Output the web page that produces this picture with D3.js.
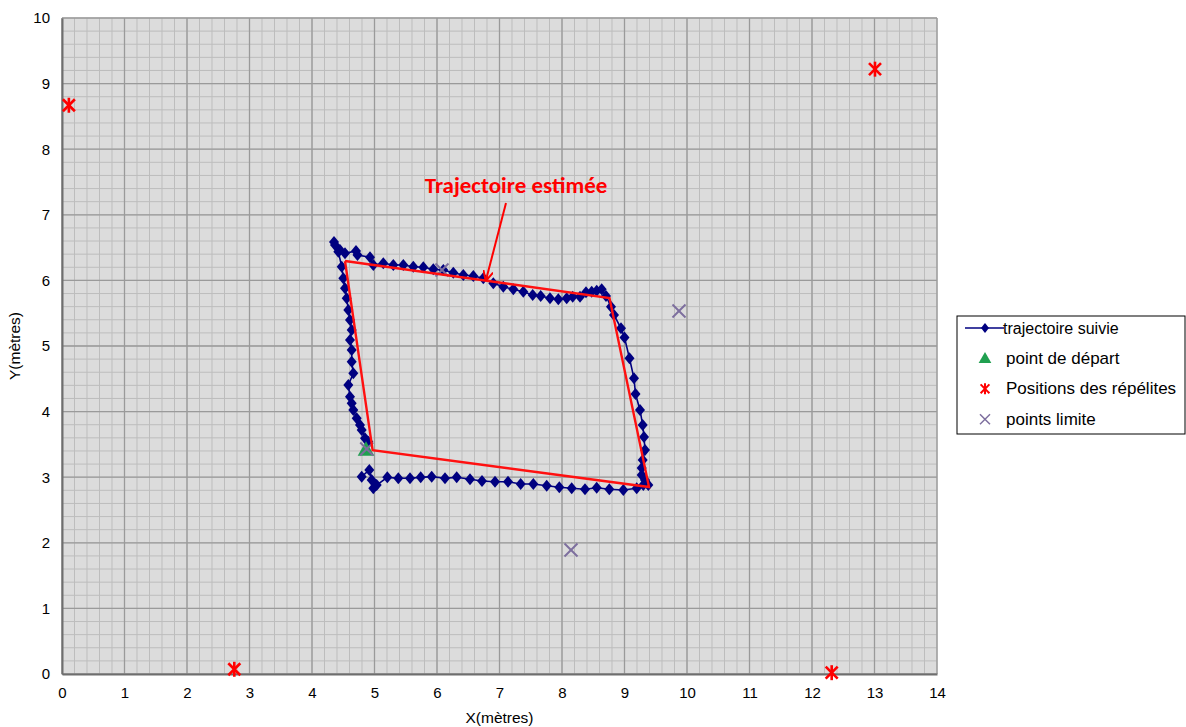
<!DOCTYPE html>
<html>
<head>
<meta charset="utf-8">
<script src="https://cdn.jsdelivr.net/npm/d3@7"></script>
<style>
  body { margin: 0; background: #fff; }
  text { font-family: Arial, "Liberation Sans", sans-serif; }
</style>
</head>
<body>
<div id="chart"></div>
<script>
// trajectoire suivie (x, y in metres)
const trajX = [4.795, 4.917, 4.955, 4.981, 5.035, 5.205, 5.381, 5.568, 5.739, 5.915, 6.128, 6.315, 6.528, 6.72, 6.928, 7.136, 7.339, 7.541, 7.755, 7.957, 8.155, 8.368, 8.555, 8.757, 8.981, 9.195, 9.301, 9.381,
  9.328, 9.275, 9.275, 9.291, 9.328, 9.312, 9.291, 9.248, 9.176, 9.152, 9.08, 9.0, 8.944, 8.832, 8.784, 8.704,
  8.635, 8.555, 8.475, 8.384, 8.288, 8.171, 8.075, 7.941, 7.808, 7.659, 7.531, 7.381, 7.221, 7.061, 6.901, 6.741, 6.581, 6.421, 6.261, 6.101, 5.941, 5.781, 5.621, 5.461, 5.301, 5.141, 4.981, 4.928, 4.728, 4.704, 4.528, 4.448, 4.368, 4.352,
  4.421, 4.475, 4.501, 4.528, 4.555, 4.581, 4.608, 4.635, 4.608, 4.635, 4.635, 4.661, 4.581, 4.608, 4.635, 4.661, 4.715, 4.768, 4.795, 4.848, 4.901];
const trajY = [3.008, 3.110, 2.957, 2.831, 2.881, 2.998, 2.983, 2.983, 2.998, 3.008, 2.983, 2.998, 2.968, 2.942, 2.931, 2.931, 2.896, 2.896, 2.870, 2.846, 2.831, 2.816, 2.840, 2.816, 2.805, 2.831, 2.881, 2.881,
  2.957, 3.034, 3.140, 3.262, 3.415, 3.613, 3.796, 4.024, 4.268, 4.508, 4.812, 5.130, 5.270, 5.473, 5.599, 5.762,
  5.864, 5.843, 5.828, 5.819, 5.752, 5.752, 5.727, 5.712, 5.727, 5.762, 5.777, 5.828, 5.864, 5.904, 5.956, 6.032, 6.067, 6.082, 6.117, 6.159, 6.169, 6.200, 6.209, 6.235, 6.235, 6.261, 6.235, 6.352, 6.387, 6.448, 6.413, 6.463, 6.540, 6.585,
  6.438, 6.209, 6.032, 5.880, 5.727, 5.549, 5.396, 5.244, 5.091, 4.939, 4.761, 4.584, 4.404, 4.227, 4.126, 4.024, 3.898, 3.796, 3.720, 3.593, 3.541];

// trajectoire estimée (red quadrilateral)
const estX = [4.528, 8.76, 9.392, 4.97, 4.528];
const estY = [6.296, 5.732, 2.851, 3.41, 6.296];

const startX = [4.864], startY = [3.415];
const repX = [0.11, 13.008, 2.757, 12.315];
const repY = [8.67, 9.22, 0.072, 0.02];
const limX = [6.08, 9.872, 8.144, 4.875];
const limY = [6.159, 5.533, 1.890, 3.43];

const xTicks = d3.range(0, 15, 1);
const yTicks = d3.range(0, 11, 1);
const xMinor = d3.range(0, 14.001, 0.2);
const yMinor = d3.range(0, 10.001, 0.2);

const width = 1186, height = 727;
const margin = { left: 62, right: 249, top: 18, bottom: 53 };

const svg = d3.select('#chart').append('svg')
  .attr('width', width).attr('height', height);

const x = d3.scaleLinear().domain([0, 14]).range([margin.left, width - margin.right]);
const y = d3.scaleLinear().domain([0, 10]).range([height - margin.bottom, margin.top]);

// plot area
svg.append('rect')
  .attr('x', x(0)).attr('y', y(10))
  .attr('width', x(14) - x(0)).attr('height', y(0) - y(10))
  .attr('fill', '#dcdcdc');

// minor grid
svg.append('g').selectAll('line').data(xMinor).enter().append('line')
  .attr('x1', d => x(d)).attr('x2', d => x(d))
  .attr('y1', y(0)).attr('y2', y(10))
  .attr('stroke', '#bdbdbd').attr('stroke-width', 1);
svg.append('g').selectAll('line').data(yMinor).enter().append('line')
  .attr('y1', d => y(d)).attr('y2', d => y(d))
  .attr('x1', x(0)).attr('x2', x(14))
  .attr('stroke', '#bdbdbd').attr('stroke-width', 1);

// major grid
svg.append('g').selectAll('line').data(xTicks).enter().append('line')
  .attr('x1', d => x(d)).attr('x2', d => x(d))
  .attr('y1', y(0)).attr('y2', y(10))
  .attr('stroke', '#9a9a9a').attr('stroke-width', 1.3);
svg.append('g').selectAll('line').data(yTicks).enter().append('line')
  .attr('y1', d => y(d)).attr('y2', d => y(d))
  .attr('x1', x(0)).attr('x2', x(14))
  .attr('stroke', '#9a9a9a').attr('stroke-width', 1.3);

// axes
const xAxis = svg.append('g')
  .attr('transform', `translate(0, ${y(0)})`)
  .call(d3.axisBottom(x).tickValues(xTicks).tickSize(0).tickPadding(13).tickFormat(d3.format('d')));
const yAxis = svg.append('g')
  .attr('transform', `translate(${x(0)}, 0)`)
  .call(d3.axisLeft(y).tickValues(yTicks).tickSize(0).tickPadding(12).tickFormat(d3.format('d')));
[xAxis, yAxis].forEach(a => {
  a.select('.domain').attr('stroke', '#6e6e6e').attr('stroke-width', 2);
  a.selectAll('text').attr('font-size', 15).attr('fill', '#000')
    .style('font-family', 'Arial, "Liberation Sans", sans-serif');
});

// axis titles
svg.append('text')
  .attr('x', (x(0) + x(14)) / 2).attr('y', 723)
  .attr('text-anchor', 'middle').attr('font-size', 15.5)
  .text('X(mètres)');
svg.append('text')
  .attr('transform', `translate(20, ${(y(0) + y(10)) / 2}) rotate(-90)`)
  .attr('text-anchor', 'middle').attr('font-size', 15.5)
  .text('Y(mètres)');

// trajectoire suivie
const traj = trajX.map((d, i) => [d, trajY[i]]);
const line = d3.line().x(d => x(d[0])).y(d => y(d[1]));
svg.append('path').datum(traj)
  .attr('d', line).attr('fill', 'none')
  .attr('stroke', '#000080').attr('stroke-width', 1.6);
const diamond = (w, h) => `M0,${-h}L${w},0L0,${h}L${-w},0Z`;
svg.append('g').selectAll('path').data(traj).enter().append('path')
  .attr('d', diamond(5, 6))
  .attr('transform', d => `translate(${x(d[0])}, ${y(d[1])})`)
  .attr('fill', '#000080');

// point de départ
const tri = d3.symbol().type(d3.symbolTriangle).size(120);
svg.append('g').selectAll('path').data(startX).enter().append('path')
  .attr('d', tri)
  .attr('transform', (d, i) => `translate(${x(d)}, ${y(startY[i]) + 1})`)
  .attr('fill', '#20a050');

// points limite
function cross(g, s, color, w) {
  g.append('line').attr('x1', -s).attr('y1', -s).attr('x2', s).attr('y2', s)
    .attr('stroke', color).attr('stroke-width', w);
  g.append('line').attr('x1', -s).attr('y1', s).attr('x2', s).attr('y2', -s)
    .attr('stroke', color).attr('stroke-width', w);
}
limX.forEach((d, i) => {
  const g = svg.append('g').attr('transform', `translate(${x(d)}, ${y(limY[i])})`);
  cross(g, 6.5, '#7d6e9e', 2);
});

// estimated trajectory (red)
const est = estX.map((d, i) => [d, estY[i]]);
svg.append('path').datum(est)
  .attr('d', line).attr('fill', 'none')
  .attr('stroke', '#ff1010').attr('stroke-width', 2.4);

// positions des répélites
function star(g, s, color, w) {
  cross(g, s * 0.8, color, w);
  g.append('line').attr('x1', 0).attr('y1', -s).attr('x2', 0).attr('y2', s)
    .attr('stroke', color).attr('stroke-width', w);
}
repX.forEach((d, i) => {
  const g = svg.append('g').attr('transform', `translate(${x(d)}, ${y(repY[i])})`);
  star(g, 7.5, '#ff0000', 2.6);
});

// annotation
svg.append('text')
  .attr('x', 516).attr('y', 193)
  .attr('text-anchor', 'middle')
  .attr('font-size', 23).attr('font-weight', 'bold')
  .attr('fill', '#ff0000')
  .style('font-family', 'Carlito, "Open Sans", Arial, sans-serif')
  .text('Trajectoire estimée');
svg.append('defs').append('marker')
  .attr('id', 'arrow').attr('viewBox', '0 0 10 10')
  .attr('refX', 9).attr('refY', 5)
  .attr('markerWidth', 5).attr('markerHeight', 5)
  .attr('orient', 'auto')
  .append('path').attr('d', 'M0,0 L10,5 L0,10')
  .attr('fill', 'none').attr('stroke', '#ff0000').attr('stroke-width', 2);
svg.append('line')
  .attr('x1', 506).attr('y1', 203).attr('x2', 486).attr('y2', 280)
  .attr('stroke', '#ff0000').attr('stroke-width', 2)
  .attr('marker-end', 'url(#arrow)');

// legend
const legend = svg.append('g').attr('transform', 'translate(957, 316)');
legend.append('rect')
  .attr('width', 228).attr('height', 118)
  .attr('fill', '#fff').attr('stroke', '#000').attr('stroke-width', 1);
const items = ['trajectoire suivie', 'point de départ', 'Positions des répélites', 'points limite'];
items.forEach((t, i) => {
  const row = legend.append('g').attr('transform', `translate(0, ${12 + i * 30.4})`);
  const cx = 28;
  if (i === 0) {
    row.append('line').attr('x1', 8).attr('x2', 47).attr('y1', 0).attr('y2', 0)
      .attr('stroke', '#000080').attr('stroke-width', 1.6);
    row.append('path').attr('d', diamond(4, 5))
      .attr('transform', `translate(${cx}, 0)`).attr('fill', '#000080');
  } else if (i === 1) {
    row.append('path').attr('d', d3.symbol().type(d3.symbolTriangle).size(70))
      .attr('transform', `translate(${cx}, 1)`).attr('fill', '#20a050');
  } else if (i === 2) {
    star(row.append('g').attr('transform', `translate(${cx}, 0)`), 5.5, '#ff0000', 2);
  } else {
    cross(row.append('g').attr('transform', `translate(${cx}, 0)`), 5, '#7d6e9e', 1.5);
  }
  row.append('text')
    .attr('x', i === 0 ? 46 : 49).attr('y', 5.5)
    .attr('font-size', i === 0 ? 16 : 17).attr('fill', '#000')
    .text(t);
});
</script>
</body>
</html>
